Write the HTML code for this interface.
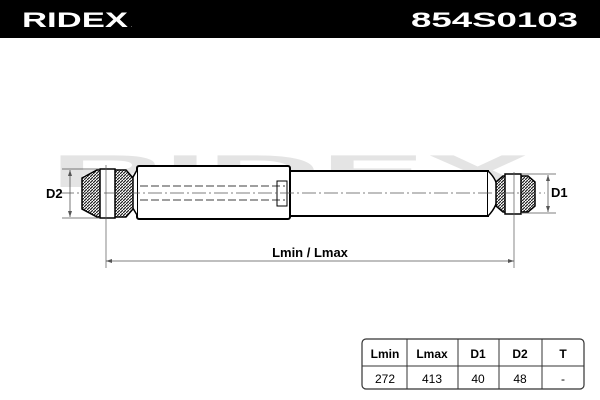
<!DOCTYPE html>
<html><head><style>
body{margin:0;width:600px;height:400px;background:#fff;overflow:hidden;font-family:"Liberation Sans",sans-serif}
</style></head><body>
<svg width="600" height="400" viewBox="0 0 600 400" xmlns="http://www.w3.org/2000/svg" style="position:absolute;left:0;top:0">
<defs>
<pattern id="h" width="3" height="3" patternUnits="userSpaceOnUse"><rect width="3" height="3" fill="#fff"/><path d="M0 3L3 0" stroke="#222" stroke-width="1.2"/></pattern>
</defs>
<rect x="0" y="0" width="600" height="38" fill="#000"/>
<text x="22" y="27" fill="#fff" font-size="21" font-weight="bold" textLength="106" lengthAdjust="spacingAndGlyphs" transform="translate(0,0)">RIDEX</text>
<text x="131" y="27" fill="#fff" font-size="5">.</text>
<text x="578" y="27" fill="#fff" font-size="21" font-weight="bold" text-anchor="end" textLength="167" lengthAdjust="spacingAndGlyphs">854S0103</text>
<!-- watermark -->
<text x="50" y="187" font-size="46" font-weight="bold" fill="#e4e4e4" textLength="480" lengthAdjust="spacingAndGlyphs">RIDEX</text>
<!-- body -->
<rect x="137" y="166" width="153" height="53" fill="#fff" stroke="#000" stroke-width="2" rx="2"/>
<rect x="290" y="171" width="198" height="45" fill="#fff" stroke="#000" stroke-width="2"/>
<path d="M488 171 Q498 180 498 193 Q498 206 488 216" fill="#fff" stroke="#000" stroke-width="1.5"/>
<path d="M137 170 L128 186 L128 200 L137 215" fill="#fff" stroke="#000" stroke-width="1.5"/>
<rect x="277" y="181" width="10" height="25" fill="none" stroke="#000" stroke-width="1"/>
<line x1="140" y1="186" x2="285" y2="186" stroke="#000" stroke-dasharray="8 3" stroke-width="0.8"/>
<line x1="140" y1="200" x2="285" y2="200" stroke="#000" stroke-dasharray="8 3" stroke-width="0.8"/>
<!-- left bushing -->
<path d="M82 178 L97 170 L126 170 L133 178 L133 209 L126 217 L97 217 L82 209 Z" fill="url(#h)" stroke="#000" stroke-width="1.5"/>
<rect x="100" y="169" width="15" height="49" fill="#fff" stroke="#000" stroke-width="1.5"/>
<!-- right bushing -->
<path d="M496 182 L503 176 L528 176 L535 182 L535 206 L528 212 L503 212 L496 206 Z" fill="url(#h)" stroke="#000" stroke-width="1.5"/>
<rect x="505" y="174" width="16" height="40" fill="#fff" stroke="#000" stroke-width="1.5"/>
<!-- centerline -->
<line x1="60" y1="193" x2="545" y2="193" stroke="#555" stroke-width="0.7" stroke-dasharray="14 3 2 3"/>
<!-- D2 -->
<line x1="62" y1="169" x2="100" y2="169" stroke="#555" stroke-width="0.7"/>
<line x1="62" y1="218" x2="100" y2="218" stroke="#555" stroke-width="0.7"/>
<line x1="70" y1="170" x2="70" y2="217" stroke="#555" stroke-width="0.8"/>
<path d="M70 170 l-2 6 h4z M70 217 l-2 -6 h4z" fill="#555"/>
<text x="46" y="198" font-size="13" font-weight="bold">D2</text>
<!-- D1 -->
<line x1="521" y1="174" x2="556" y2="174" stroke="#555" stroke-width="0.7"/>
<line x1="521" y1="213" x2="556" y2="213" stroke="#555" stroke-width="0.7"/>
<line x1="548" y1="175" x2="548" y2="212" stroke="#555" stroke-width="0.8"/>
<path d="M548 175 l-2 6 h4z M548 212 l-2 -6 h4z" fill="#555"/>
<text x="551" y="197" font-size="13" font-weight="bold">D1</text>
<!-- Lmin -->
<line x1="106" y1="165" x2="106" y2="268" stroke="#555" stroke-width="0.7"/>
<line x1="514" y1="172" x2="514" y2="268" stroke="#555" stroke-width="0.7"/>
<line x1="106" y1="261" x2="514" y2="261" stroke="#555" stroke-width="0.7"/>
<path d="M106 261 l6 -2 v4z M514 261 l-6 -2 v4z" fill="#555"/>
<text x="310" y="257" font-size="13" font-weight="bold" text-anchor="middle">Lmin / Lmax</text>
<!-- table -->
<rect x="362" y="339" width="222" height="50" rx="4" fill="#fff" stroke="#333" stroke-width="1.2"/>
<line x1="362" y1="366" x2="584" y2="366" stroke="#333"/>
<g stroke="#333"><line x1="407" y1="339" x2="407" y2="389"/><line x1="458" y1="339" x2="458" y2="389"/><line x1="499" y1="339" x2="499" y2="389"/><line x1="542" y1="339" x2="542" y2="389"/></g>
<g font-size="12" text-anchor="middle" font-weight="bold">
<text x="385" y="358">Lmin</text><text x="432" y="358">Lmax</text><text x="478" y="358">D1</text><text x="520" y="358">D2</text><text x="563" y="358">T</text></g>
<g font-size="12" text-anchor="middle">
<text x="385" y="383">272</text><text x="432" y="383">413</text><text x="478" y="383">40</text><text x="520" y="383">48</text><text x="563" y="383">-</text></g>
</svg>
</body></html>
